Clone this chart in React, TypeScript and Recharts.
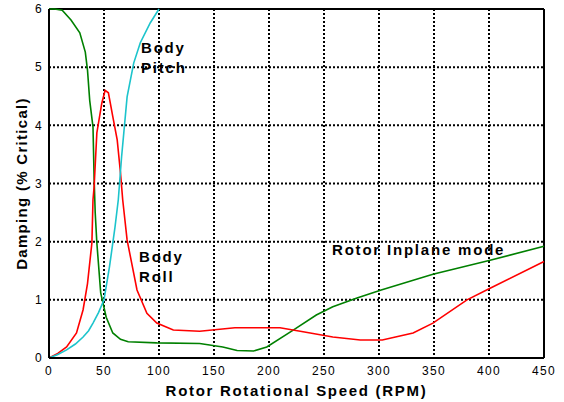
import { LineChart, Line, XAxis, YAxis, CartesianGrid, Label, ReferenceLine } from 'recharts';

// rotor inplane mode (green)
const inplaneRpm = [0, 5, 12, 20, 28, 33, 35, 37, 40, 41, 42, 43.5, 47, 52, 58, 65, 72, 98, 137, 158, 171, 186, 198, 222, 243, 258, 280, 302, 349, 401, 450];
const inplaneDamping = [6, 6, 5.98, 5.81, 5.59, 5.26, 4.95, 4.43, 3.97, 3.1, 2.5, 1.98, 1.12, 0.7, 0.43, 0.32, 0.28, 0.26, 0.25, 0.19, 0.13, 0.12, 0.19, 0.48, 0.74, 0.88, 1.03, 1.17, 1.44, 1.68, 1.92];

// body pitch (cyan)
const pitchRpm = [0, 8, 16, 24, 31, 36, 40, 45, 50, 55, 60, 63, 66, 68, 71, 77, 83, 92, 100];
const pitchDamping = [0, 0.06, 0.14, 0.24, 0.36, 0.47, 0.6, 0.78, 1.0, 1.57, 2.25, 2.72, 3.46, 3.87, 4.49, 5.07, 5.42, 5.76, 6];

// body roll (red)
const rollRpm = [0, 8, 16, 25, 31, 35, 39, 40, 41, 43.5, 48, 51, 54, 58, 62, 65, 67, 71, 80, 89, 98, 113, 137, 169, 210, 231, 258, 283, 303, 331, 349, 380, 401, 450];
const rollDamping = [0, 0.08, 0.19, 0.43, 0.83, 1.28, 1.98, 2.72, 2.94, 3.87, 4.38, 4.6, 4.56, 4.15, 3.75, 3.18, 2.72, 2.03, 1.17, 0.77, 0.6, 0.48, 0.46, 0.52, 0.52, 0.45, 0.36, 0.31, 0.31, 0.43, 0.6, 1.0, 1.2, 1.66];

const xTicks = [0, 50, 100, 150, 200, 250, 300, 350, 400, 450];
const yTicks = [0, 1, 2, 3, 4, 5, 6];

const toPoints = (xs: number[], ys: number[]) => xs.map((x, i) => ({ x, y: ys[i] }));

const font = '"Liberation Sans", Arial, sans-serif';
const note = { position: 'absolute' as const, fontFamily: font, fontWeight: 'bold' as const, fontSize: 15, letterSpacing: 1.8, lineHeight: '20px', color: '#000' };

export default function App() {
  const tick = { fill: '#000', fontSize: 12, fontFamily: font, letterSpacing: 1.3 };
  return (
    <div style={{ position: 'absolute', left: 0, top: 0, width: 564, height: 402, background: '#fff' }}>
      <LineChart width={564} height={402} margin={{ top: 9, right: 20, left: 0, bottom: 0 }}>
        <CartesianGrid stroke="#000" strokeWidth={2} strokeDasharray="2 2" />
        <XAxis dataKey="x" type="number" domain={[0, 450]} ticks={xTicks} height={44}
          tick={tick} tickSize={0} tickMargin={8} stroke="#000" strokeWidth={2}>
          <Label value="Rotor Rotational Speed (RPM)" position="center" dy={11}
            style={{ fontFamily: font, fontWeight: 'bold', fontSize: 15, letterSpacing: 1.7, fill: '#000' }} />
        </XAxis>
        <YAxis type="number" domain={[0, 6]} ticks={yTicks} width={49}
          tick={tick} tickSize={0} tickMargin={6} stroke="#000" strokeWidth={2}>
          <Label value="Damping (% Critical)" position="center" angle={-90} dx={-3}
            style={{ fontFamily: font, fontWeight: 'bold', fontSize: 15, letterSpacing: 1.3, fill: '#000', textAnchor: 'middle' }} />
        </YAxis>
        <ReferenceLine y={6} stroke="#000" strokeWidth={2} ifOverflow="visible" />
        <ReferenceLine x={450} stroke="#000" strokeWidth={2} ifOverflow="visible" />
        <Line data={toPoints(inplaneRpm, inplaneDamping)} dataKey="y" stroke="#008000" strokeWidth={1.6} dot={false} isAnimationActive={false} />
        <Line data={toPoints(rollRpm, rollDamping)} dataKey="y" stroke="#ff0000" strokeWidth={1.6} dot={false} isAnimationActive={false} />
        <Line data={toPoints(pitchRpm, pitchDamping)} dataKey="y" stroke="#1cc4cc" strokeWidth={1.6} dot={false} isAnimationActive={false} />
      </LineChart>
      <div style={{ ...note, left: 141, top: 38 }}>Body<br />Pitch</div>
      <div style={{ ...note, left: 139, top: 247 }}>Body<br />Roll</div>
      <div style={{ ...note, left: 332, top: 240 }}>Rotor Inplane mode</div>
    </div>
  );
}
